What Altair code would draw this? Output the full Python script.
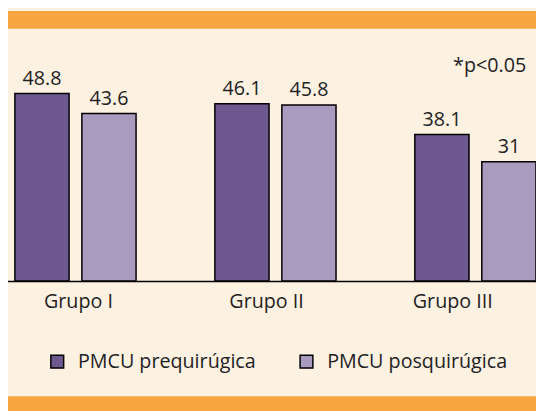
import altair as alt
import pandas as pd

groups = ["Grupo I", "Grupo II", "Grupo III"]
series = ["PMCU prequirúgica", "PMCU posquirúgica"]
pre = [48.8, 46.1, 38.1]
pos = [43.6, 45.8, 31]
note = ["*p<0.05"]

DARK = "#6f5890"
LIGHT = "#a99bbd"
CREAM = "#fdf1e2"
ORANGE = "#f8a641"
INK = "#222222"
FONT = "Open Sans"

rows = []
for g, a, b in zip(groups, pre, pos):
    rows.append({"grupo": g, "serie": series[0], "valor": a})
    rows.append({"grupo": g, "serie": series[1], "valor": b})
df = pd.DataFrame(rows)

W, H = 536, 274
TOTAL_H = 403

x = alt.X(
    "grupo:N", sort=groups,
    scale=alt.Scale(range=[-33, 576], paddingInner=0, paddingOuter=0),
    axis=alt.Axis(
        title=None, labelAngle=0, ticks=False, domainColor="black",
        domainWidth=1.5, labelFontSize=20, labelFont=FONT, labelColor=INK,
        labelBaseline="alphabetic", labelPadding=27,
        labelOffset={"expr": "datum.value === 'Grupo I' ? 3 : datum.value === 'Grupo II' ? -9 : -23"},
    ),
)
xo = alt.XOffset("serie:N", sort=series,
                 scale=alt.Scale(range=[40, 163], paddingInner=0.191, paddingOuter=0))
y = alt.Y("valor:Q", scale=alt.Scale(domain=[0, 70.26], nice=False), axis=None)

color = alt.Color(
    "serie:N", sort=series,
    scale=alt.Scale(domain=series, range=[DARK, LIGHT]),
    legend=alt.Legend(
        title=None, orient="none", legendX=40, legendY=346, direction="horizontal",
        symbolType="square", symbolSize=169, symbolStrokeColor="black",
        symbolStrokeWidth=1.5, symbolOpacity=1, labelFontSize=20, labelFont=FONT,
        labelColor=INK, labelOffset=11, columnPadding=41, padding=0, labelLimit=0,
    ),
)

bars = alt.Chart(df).mark_bar(stroke="black", strokeWidth=1.5, opacity=1).encode(
    x=x, xOffset=xo, y=y, color=color
)
labels = alt.Chart(df).mark_text(
    baseline="alphabetic", dy=-9, fontSize=20, font=FONT, color=INK
).encode(x=x, xOffset=xo, y=y, text="valor:Q")

one = pd.DataFrame({"n": note})
top_band = alt.Chart(one).mark_rect(color=ORANGE).encode(
    x=alt.value(0), x2=alt.value(W + 20), y=alt.value(0), y2=alt.value(18)
)
bottom_band = alt.Chart(one).mark_rect(color=ORANGE).encode(
    x=alt.value(0), x2=alt.value(W + 20), y=alt.value(391), y2=alt.value(TOTAL_H + 20)
)
note_text = alt.Chart(one).mark_text(
    align="right", baseline="alphabetic", fontSize=20, font=FONT, color=INK
).encode(x=alt.value(526), y=alt.value(62), text="n:N")

chart = alt.layer(top_band, bottom_band, bars, labels, note_text).properties(
    width=W, height=H,
    autosize=alt.AutoSizeParams(type="none"),
    padding={"left": 0, "top": 0, "right": 0, "bottom": TOTAL_H - H},
    background=CREAM,
).configure_view(stroke=None)

chart.save("out.html", embed_options={"renderer": "svg", "actions": False})
